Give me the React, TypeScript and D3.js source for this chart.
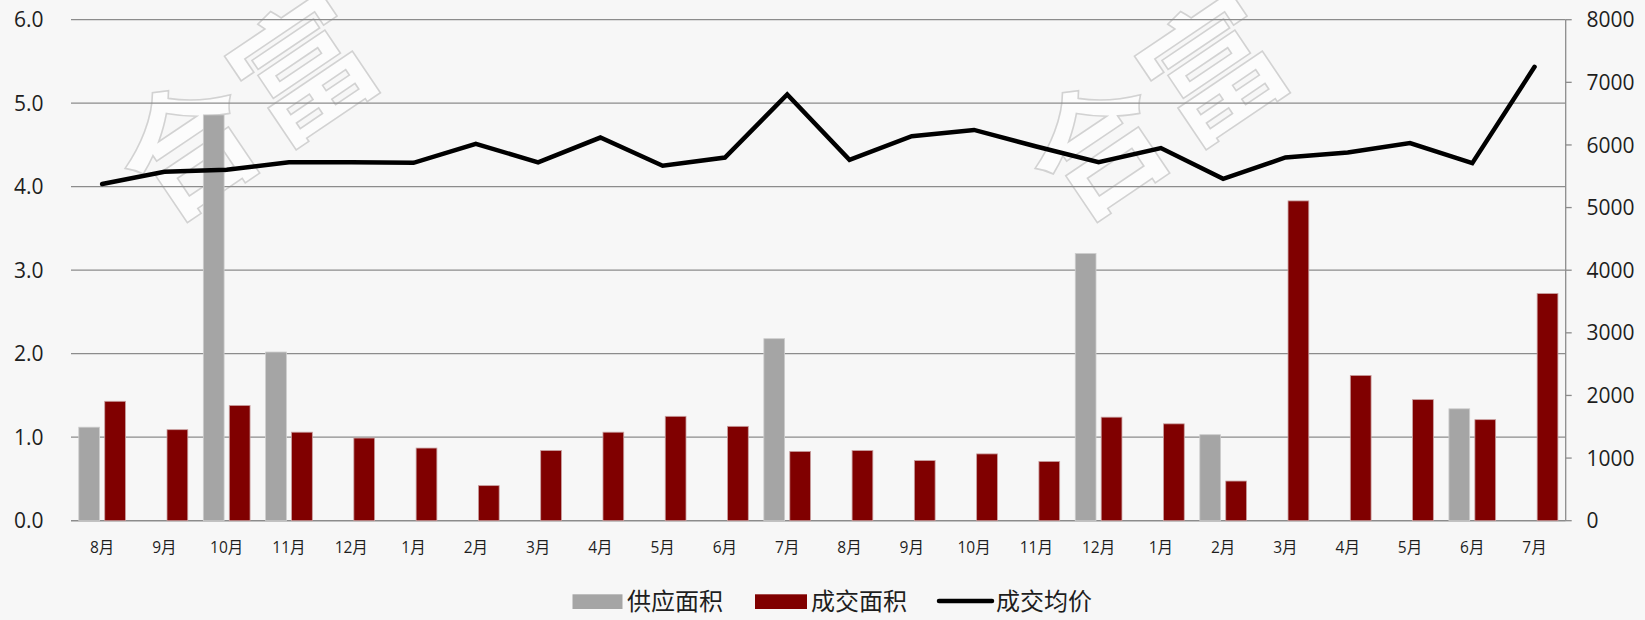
import React from "react";
import * as d3 from "d3";

const categories = ["8月","9月","10月","11月","12月","1月","2月","3月","4月","5月","6月","7月","8月","9月","10月","11月","12月","1月","2月","3月","4月","5月","6月","7月"];
const supplyArea: (number | null)[] = [1.12, null, 4.86, 2.02, null, null, null, null, null, null, null, 2.18, null, null, null, null, 3.20, null, 1.03, null, null, null, 1.34, null];
const dealArea: number[] = [1.43, 1.09, 1.38, 1.06, 0.99, 0.87, 0.42, 0.84, 1.06, 1.25, 1.13, 0.83, 0.84, 0.72, 0.80, 0.71, 1.24, 1.16, 0.475, 3.83, 1.74, 1.45, 1.21, 2.72];
const avgPrice: number[] = [5377, 5573, 5605, 5723, 5725, 5715, 6017, 5722, 6118, 5669, 5798, 6805, 5762, 6140, 6240, 5975, 5725, 5950, 5460, 5800, 5880, 6030, 5710, 7248];
const leftTicks = [0, 1, 2, 3, 4, 5, 6];
const rightTicks = [0, 1000, 2000, 3000, 4000, 5000, 6000, 7000, 8000];
const seriesNames = ["供应面积", "成交面积", "成交均价"];
const watermarkText = "合富";

const W = 1645, H = 620;
const M = { left: 71, right: 1565.7, top: 19.7, bottom: 520.7 };
const FONT = "'Open Sans', 'Noto Sans CJK SC', sans-serif";
const GRID = "#8c8c8c";
const TXT = "#1e1e1e";
const GRAY = "#a5a5a5";
const RED = "#800000";

export default function App() {
  const idx = categories.map((_, i) => String(i));
  const x = d3.scaleBand<string>().domain(idx).range([M.left, M.right]).paddingInner(0).paddingOuter(0);
  const bw = x.bandwidth();
  const inner = d3.scaleBand<string>().domain(["s", "d"]).range([bw * 0.125, bw * 0.875]).paddingInner(0.2);
  const yL = d3.scaleLinear().domain([0, 6]).range([M.bottom, M.top]);
  const yR = d3.scaleLinear().domain([0, 8000]).range([M.bottom, M.top]);
  const cx = (i: number) => (x(String(i)) as number) + bw / 2;
  const line = d3.line<number>().x((_, i) => cx(i)).y((d) => yR(d));

  const wmAngle = -34;
  const wmSize = 135;
  const watermarks = [{ x: 183, y: 140 }, { x: 1093, y: 140 }];

  return (
    <svg width={W} height={H} style={{ position: "absolute", left: 0, top: 0, display: "block" }} fontFamily={FONT}>
      <rect x={0} y={0} width={W} height={H} fill="#f7f7f7" />
      {watermarks.map((p, k) => (
        <g key={k} transform={`translate(${p.x},${p.y}) rotate(${wmAngle})`}>
          <text x={-wmSize / 2} y={0} dominantBaseline="central" fontSize={wmSize} fontWeight={700}
            letterSpacing={4}
            fontFamily="'Noto Sans CJK SC', sans-serif" fill="#fcfcfc" stroke="#d2d2d2" strokeWidth={1.6}>
            {watermarkText}
          </text>
        </g>
      ))}
      {leftTicks.map((t) => (
        <line key={t} x1={M.left} x2={M.right} y1={yL(t)} y2={yL(t)} stroke={GRID} strokeWidth={t === 0 ? 1.6 : 1.3} />
      ))}
      <line x1={M.right} x2={M.right} y1={M.top} y2={M.bottom} stroke={GRID} strokeWidth={1.3} />
      {rightTicks.map((t) => (
        <line key={t} x1={M.right} x2={M.right + 6} y1={yR(t)} y2={yR(t)} stroke={GRID} strokeWidth={1.3} />
      ))}
      {leftTicks.map((t) => (
        <text key={t} x={43.5} y={yL(t)} dy="0.36em" textAnchor="end" fontSize={21} fill={TXT}>{t.toFixed(1)}</text>
      ))}
      {rightTicks.map((t) => (
        <text key={t} x={1586.5} y={yR(t)} dy="0.36em" textAnchor="start" fontSize={21} fill={TXT}>{t}</text>
      ))}
      {categories.map((c, i) => (
        <text key={i} x={cx(i)} y={553} textAnchor="middle" fontSize={15.5} fill={TXT}>{c}</text>
      ))}
      {supplyArea.map((v, i) => v == null ? null : (
        <rect key={"s" + i} x={(x(String(i)) as number) + (inner("s") as number)} y={yL(v)} width={inner.bandwidth()}
          height={yL(0) - yL(v)} fill={GRAY} stroke="#cdcdcd" strokeWidth={0.8} />
      ))}
      {dealArea.map((v, i) => (
        <rect key={"d" + i} x={(x(String(i)) as number) + (inner("d") as number)} y={yL(v)} width={inner.bandwidth()}
          height={yL(0) - yL(v)} fill={RED} stroke="#c9a0a0" strokeWidth={0.8} />
      ))}
      <path d={line(avgPrice) || ""} fill="none" stroke="#000" strokeWidth={4.5} strokeLinejoin="miter" strokeLinecap="round" />
      <g>
        <rect x={572.5} y={594.3} width={50} height={14.7} fill={GRAY} />
        <text x={627} y={609.5} fontSize={24} fill={TXT}>{seriesNames[0]}</text>
        <rect x={755} y={594.3} width={52} height={14.7} fill={RED} />
        <text x={811} y={609.5} fontSize={24} fill={TXT}>{seriesNames[1]}</text>
        <line x1={939} x2={992} y1={601} y2={601} stroke="#000" strokeWidth={4.5} strokeLinecap="round" />
        <text x={996} y={609.5} fontSize={24} fill={TXT}>{seriesNames[2]}</text>
      </g>
    </svg>
  );
}
